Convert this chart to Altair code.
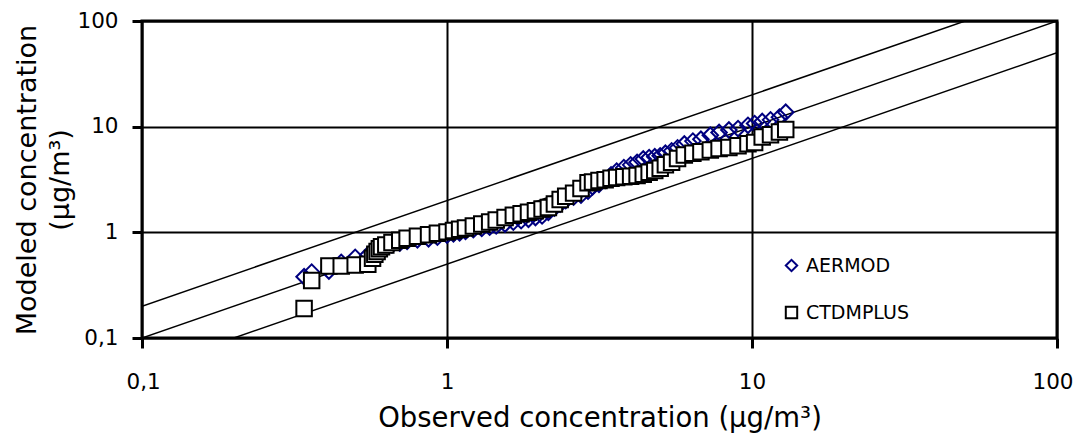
import altair as alt
import pandas as pd

# Observed concentrations (sorted, ug/m3) shared by both Q-Q series
OBSERVED = [0.34, 0.36, 0.41, 0.45, 0.50, 0.55, 0.57, 0.58, 0.59, 0.60, 0.61, 0.63,
            0.66, 0.70, 0.74, 0.80, 0.87, 0.93, 1.00, 1.05, 1.10, 1.15, 1.22, 1.30,
            1.38, 1.45, 1.55, 1.65, 1.75, 1.85, 1.95, 2.05, 2.15, 2.25, 2.35, 2.45,
            2.6, 2.75, 2.9, 3.0, 3.15, 3.3, 3.45, 3.6, 3.8, 4.0, 4.2, 4.4,
            4.6, 4.8, 5.0, 5.2, 5.45, 5.7, 6.0, 6.4, 6.8, 7.3, 7.8, 8.4,
            9.0, 9.7, 10.2, 10.8, 11.5, 12.3, 12.9]

AERMOD = [0.38, 0.42, 0.43, 0.52, 0.58, 0.61, 0.63, 0.65, 0.67, 0.69, 0.71, 0.73,
          0.76, 0.79, 0.82, 0.85, 0.87, 0.90, 0.94, 0.97, 0.99, 1.02, 1.06, 1.09,
          1.12, 1.15, 1.2, 1.25, 1.29, 1.33, 1.38, 1.43, 1.55, 1.7, 1.85, 2.0,
          2.15, 2.25, 2.45, 2.7, 2.85, 3.1, 3.5, 3.8, 4.1, 4.35, 4.6, 4.95,
          5.1, 5.2, 5.3, 5.6, 5.9, 6.3, 6.85, 7.3, 7.6, 8.3, 8.8, 9.3,
          9.6, 10.3, 10.7, 11.2, 11.6, 12.3, 13.7]

CTDMPLUS = [0.19, 0.35, 0.48, 0.48, 0.49, 0.50, 0.57, 0.62, 0.66, 0.70, 0.73, 0.76,
            0.80, 0.84, 0.88, 0.92, 0.95, 0.98, 1.01, 1.04, 1.07, 1.10, 1.15, 1.20,
            1.25, 1.31, 1.38, 1.45, 1.50, 1.55, 1.60, 1.66, 1.72, 1.85, 2.05, 2.2,
            2.35, 2.6, 2.95, 3.0, 3.1, 3.15, 3.25, 3.3, 3.35, 3.4, 3.45, 3.55,
            3.7, 3.85, 4.05, 4.35, 4.6, 5.0, 5.4, 5.6, 5.8, 6.0, 6.2, 6.35,
            6.6, 6.9, 7.1, 8.0, 8.4, 8.9, 9.4]

SERIES = ["AERMOD", "CTDMPLUS"]
TICK_VALUES = [0.1, 1, 10, 100]
TICK_LABELS = ["0,1", "1", "10", "100"]
REF_X = [0.1, 100]
REF_FACTORS = [2, 1, 0.5]

FONT = "DejaVu Sans"

rows = []
for name, vals in zip(SERIES, [AERMOD, CTDMPLUS]):
    for o, m in zip(OBSERVED, vals):
        rows.append({"series": name, "obs": o, "mod": m})
pts = pd.DataFrame(rows)

ref_rows = []
for f in REF_FACTORS:
    for x in REF_X:
        ref_rows.append({"line": str(f), "obs": x, "mod": x * f})
ref = pd.DataFrame(ref_rows)

label_expr = ""
for v, lab in zip(TICK_VALUES, TICK_LABELS):
    label_expr += f"datum.value == {v} ? '{lab}' : "
label_expr += "''"

x_enc = alt.X(
    "obs:Q",
    scale=alt.Scale(type="log", domain=[0.1, 100], nice=False),
    axis=alt.Axis(
        values=TICK_VALUES, labelExpr=label_expr,
        title="Observed concentration (\u03bcg/m\u00b3)",
        grid=True, gridColor="black", gridWidth=2, gridOpacity=1,
        domain=False, ticks=True, tickColor="black", tickWidth=3, tickSize=10,
        labelFont=FONT, labelFontSize=21.5, labelColor="black", labelPadding=23,
        labelFlush=True, labelFlushOffset=16, labelOverlap=False,
        titleFont=FONT, titleFontSize=27.5, titleFontWeight="normal", titleColor="black",
        titleBaseline="alphabetic", titleY=88, titleAnchor="middle",
    ),
)
y_enc = alt.Y(
    "mod:Q",
    scale=alt.Scale(type="log", domain=[0.1, 100], nice=False),
    axis=alt.Axis(
        values=TICK_VALUES, labelExpr=label_expr,
        title=["Modeled concentration", "(\u03bcg/m\u00b3)"],
        grid=True, gridColor="black", gridWidth=2, gridOpacity=1,
        domain=False, ticks=True, tickColor="black", tickWidth=3, tickSize=10,
        labelFont=FONT, labelFontSize=21.5, labelColor="black", labelPadding=14,
        labelFlush=False, labelOverlap=False, labelBaseline="middle",
        titleFont=FONT, titleFontSize=27, titleFontWeight="normal", titleColor="black",
        titleAngle=270, titleBaseline="alphabetic", titleAlign="center",
        titleX=-107, titleY=158.5, titleLineHeight=33,
    ),
)

lines = alt.Chart(ref).mark_line(color="black", strokeWidth=1.5, clip=True).encode(
    x=x_enc, y=y_enc, detail="line:N"
)

legend = alt.Legend(
    title=None, orient="none", legendX=640, legendY=235,
    labelFont=FONT, labelFontSize=19, labelColor="black", labelOffset=5,
    symbolSize=130, symbolStrokeWidth=2, rowPadding=26, padding=0,
)

points = alt.Chart(pts).mark_point(filled=True, size=240, strokeWidth=2, opacity=1).encode(
    x=x_enc,
    y=y_enc,
    shape=alt.Shape("series:N", scale=alt.Scale(domain=SERIES, range=["diamond", "square"]), legend=legend),
    stroke=alt.Stroke("series:N", scale=alt.Scale(domain=SERIES, range=["#000080", "black"]), legend=legend),
    fill=alt.Fill("series:N", scale=alt.Scale(domain=SERIES, range=["transparent", "white"]), legend=None),
)

chart = alt.layer(lines, points).properties(
    width=915, height=317,
    padding={"left": 134, "top": 13, "right": 16, "bottom": 95},
    autosize=alt.AutoSizeParams(type="none"),
).configure_view(stroke="black", strokeWidth=3)

chart.save("out.html", embed_options={"renderer": "svg", "actions": False})
